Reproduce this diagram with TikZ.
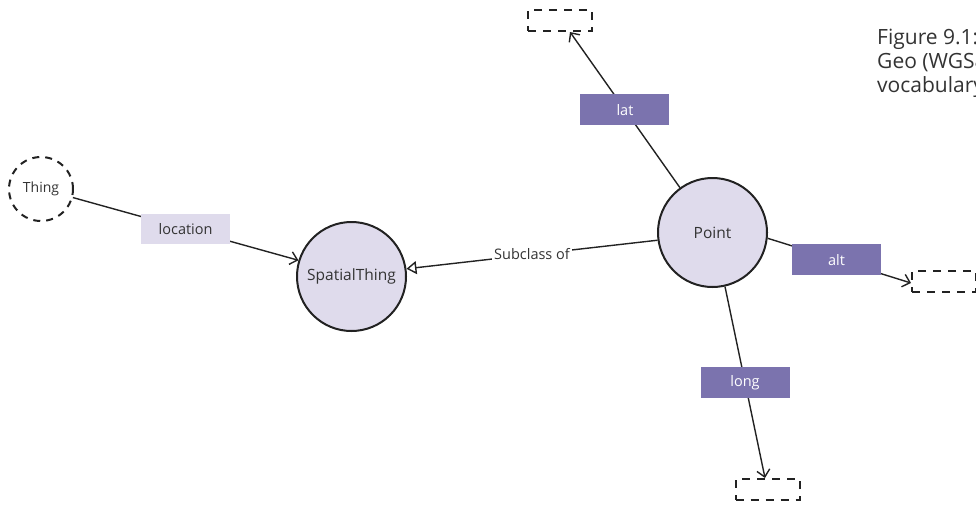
\documentclass[tikz,border=0pt]{standalone}
\usepackage{fontspec}
\setmainfont{Open Sans}
\usetikzlibrary{arrows.meta}
\definecolor{lav}{HTML}{DFDBEC}
\definecolor{purp}{HTML}{7B73AE}
\definecolor{ink}{HTML}{333333}
\definecolor{edge}{HTML}{222222}
\begin{document}
\begin{tikzpicture}[x=1pt,y=-1pt,
  cls/.style={circle,draw=edge,line width=2pt,fill=lav,minimum size=109pt,inner sep=0pt,
    font=\fontsize{15.5}{18}\selectfont,text=ink},
  ghostcirc/.style={circle,draw=edge,line width=2pt,dash pattern=on 7pt off 6pt,minimum size=64pt,
    inner sep=0pt,font=\fontsize{14}{16}\selectfont,text=ink},
  ghostbox/.style={rectangle,draw=edge,line width=2pt,dash pattern=on 8pt off 7pt,
    minimum width=64pt,minimum height=21pt,inner sep=0pt},
  conn/.style={draw=edge,line width=1.4pt},
  barb/.style={-{Straight Barb[length=7pt,width=13pt,line width=1.4pt]}},
  sub/.style={-{Triangle[open,length=10pt,width=13pt,line width=1.4pt,fill=white]}},
  lbllight/.style={rectangle,fill=lav,minimum width=89pt,minimum height=30pt,inner sep=0pt,
    font=\fontsize{14.5}{16}\selectfont,text=ink},
  lbldark/.style={rectangle,fill=purp,minimum width=89pt,minimum height=31pt,inner sep=0pt,
    font=\fontsize{14.5}{16}\selectfont,text=white},
  lblplain/.style={fill=white,inner sep=2pt,font=\fontsize{14.5}{16}\selectfont,text=ink},
  captxt/.style={anchor=base west,inner sep=0pt,font=\fontsize{21}{24}\selectfont,text=ink},
]
\useasboundingbox (0,0) rectangle (976,504);

\node[ghostcirc] (thing) at (41,189) {Thing};
\node[cls] (st) at (351.5,276.5) {SpatialThing};
\node[cls] (pt) at (712.5,232.5) {Point};
\node[ghostbox] (tbox) at (560,20.5) {};
\node[ghostbox] (rbox) at (944,281.5) {};
\node[ghostbox] (bbox) at (767.5,489.5) {};

\draw[conn,barb] (thing.-15) -- node[lbllight]{location} (st.163);
\draw[conn,sub] (pt.188) -- node[lblplain]{Subclass of} (st.8.5);
\draw[conn,barb] (pt.126) -- node[lbldark]{lat} ([xshift=10pt]tbox.south);
\draw[conn,barb] (pt.-6) -- node[lbldark,pos=0.48]{alt} ([yshift=-1.5pt]rbox.west);
\draw[conn,barb] (pt.-77) -- node[lbldark]{long} ([xshift=-2.5pt]bbox.north);

\node[captxt] (cap1) at (877,44) {Figure 9.1:};
\node[captxt] (cap2) at (877,68) {Geo (WGS84)};
\node[captxt] (cap3) at (877,92) {vocabulary};
\end{tikzpicture}
\end{document}
